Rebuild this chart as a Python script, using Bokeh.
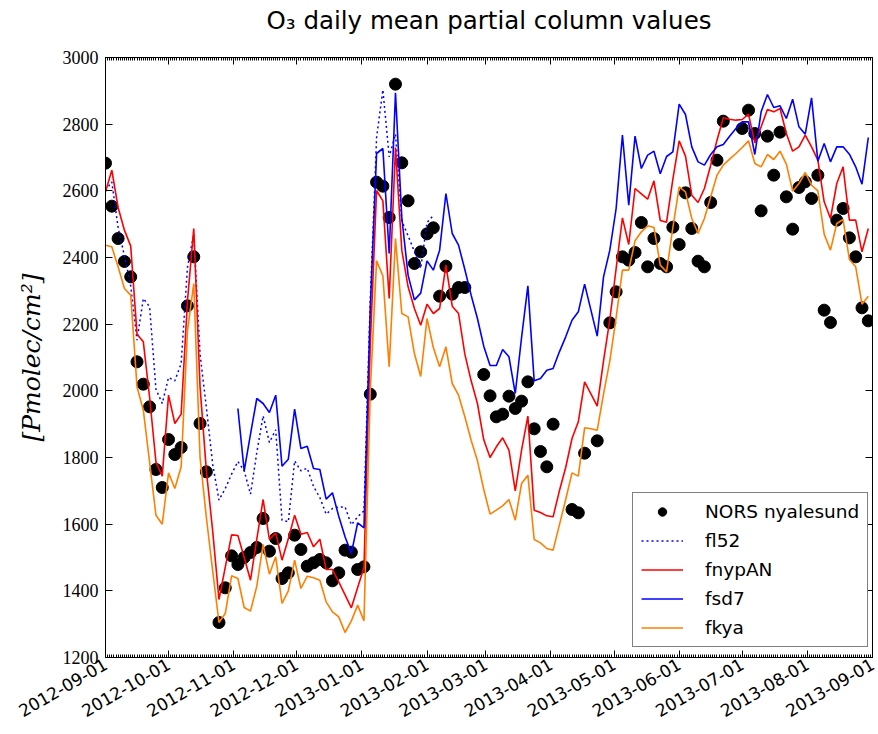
import math
import pandas as pd
from bokeh.plotting import figure
from bokeh.models import FixedTicker, LinearAxis, Range1d, CustomJSTickFormatter
from bokeh.embed import file_html
from bokeh.resources import INLINE

nan = float("nan")

# sampling dates (every third day from 2012-09-01)
dates = pd.date_range("2012-09-01", periods=122, freq="3D")

tick_labels = ["2012-09-01", "2012-10-01", "2012-11-01", "2012-12-01", "2013-01-01",
               "2013-02-01", "2013-03-01", "2013-04-01", "2013-05-01", "2013-06-01",
               "2013-07-01", "2013-08-01", "2013-09-01"]
y_ticks = [1200, 1400, 1600, 1800, 2000, 2200, 2400, 2600, 2800, 3000]

nors = [2683, 2554, 2457, 2388, 2342, 2087, 2020, 1952, 1764, 1710,
        1854, 1809, 1830, 2255, 2402, 1902, 1757, nan, 1305, 1409,
        1505, 1479, 1500, 1515, 1530, 1617, 1519, 1557, 1437, 1454,
        1567, 1524, 1474, 1484, 1494, 1484, 1430, 1454, 1522, 1516,
        1464, 1472, 1990, 2626, 2614, 2520, 2920, 2684, 2570, 2382,
        2417, 2471, 2489, 2284, 2374, 2290, 2310, 2310, nan, nan,
        2049, 1985, 1922, 1930, 1984, 1947, 1969, 2027, 1886, 1818,
        1772, 1900, nan, nan, 1644, 1634, 1813, nan, 1850, nan,
        2204, 2297, 2402, 2392, 2415, 2505, 2372, 2457, 2382, 2372,
        2491, 2439, 2594, 2487, 2389, 2372, 2565, 2692, 2809, nan,
        nan, 2787, 2842, 2772, 2540, 2764, 2647, 2776, 2582, 2485,
        2610, 2627, 2577, 2647, 2242, 2205, 2512, 2547, 2459, 2402,
        2249, 2210]

fl52 = [2602, 2627, 2490, 2405, 2315, 2152, 2277, 2252, 2005, 1962,
        2040, 2030, 2082, 2370, 2470, 2110, 1950, 1780, 1672, 1707,
        1750, 1788, 1760, 1690, 1815, 1925, 1845, 1883, 1612, 1607,
        1790, 1760, 1768, 1713, 1680, 1630, 1647, 1651, 1652, 1598,
        1622, 1640, 2270, 2760, 2903, 2702, 2770, 2510, 2465, 2418,
        2367, 2505, 2526] + [nan] * 69

fnypAN = [2597, 2662, 2550, 2482, 2434, 2170, 2147, 1980, 1787, 1744,
          1987, 1902, 1930, 2270, 2487, 2012, 1760, 1580, 1374, 1471,
          1568, 1566, 1500, 1432, 1555, 1674, 1554, 1574, 1492, 1556,
          1627, 1570, 1575, 1532, 1555, 1464, 1464, 1427, 1388, 1349,
          1410, 1470, 2140, 2601, 2570, 2277, 2730, 2422, 2312, 2247,
          2197, 2260, 2232, 2247, 2377, 2254, 2232, 2110, 2030, 1962,
          1853, 1800, 1832, 1859, 1822, 1700, 1822, 1924, 1642, 1635,
          1625, 1622, 1700, 1770, 1857, 1907, 2027, 1991, 1954, 2090,
          2214, 2367, 2519, 2439, 2607, 2591, 2575, 2630, 2511, 2506,
          2635, 2750, 2704, 2587, 2565, 2607, 2677, 2752, 2819, 2815,
          2812, 2814, 2830, 2744, 2792, 2844, 2837, 2847, 2772, 2719,
          2732, 2767, 2732, 2692, 2567, 2517, 2622, 2672, 2512, 2512,
          2417, 2487]

fsd7 = [nan] * 21 + [
        1947, 1760, 1870, 1977, 1962, 1935, 1987, 1774, 1795,
        1945, 1827, 1834, 1767, 1764, 1675, 1694, 1624, 1562, 1512,
        1604, 1589, 2250, 2712, 2727, 2412, 2894, 2520, 2347, 2273,
        2293, 2390, 2362, 2422, 2592, 2472, 2437, 2364, 2287, 2217,
        2134, 2076, 2076, 2124, 2102, 1992, 2160, 2315, 2030, 2037,
        2062, 2067, 2117, 2162, 2212, 2237, 2320, 2242, 2164, 2342,
        2422, 2547, 2767, 2557, 2764, 2667, 2707, 2719, 2651, 2703,
        2717, 2860, 2829, 2732, 2687, 2677, 2709, 2732, 2739, 2764,
        2787, 2807, 2807, 2709, 2837, 2889, 2850, 2855, 2817, 2875,
        2792, 2770, 2879, 2689, 2742, 2687, 2732, 2732, 2710, 2672,
        2620, 2760]

fkya = [2437, 2432, 2372, 2307, 2287, 2012, 1942, 1785, 1627, 1600,
        1754, 1707, 1772, 2180, 2322, 1800, 1620, 1460, 1305, 1332,
        1445, 1437, 1350, 1339, 1414, 1539, 1450, 1502, 1362, 1400,
        1492, 1407, 1444, 1439, 1432, 1367, 1337, 1322, 1275, 1310,
        1357, 1310, 2000, 2390, 2345, 2072, 2457, 2232, 2222, 2112,
        2043, 2217, 2130, 2072, 2132, 2022, 1987, 1922, 1852, 1790,
        1704, 1630, 1642, 1655, 1674, 1612, 1722, 1747, 1554, 1544,
        1527, 1522, 1598, 1674, 1754, 1744, 1889, 1886, 1882, 1990,
        2090, 2220, 2362, 2362, 2450, 2477, 2495, 2490, 2377, 2357,
        2490, 2612, 2597, 2517, 2472, 2517, 2582, 2647, 2677, 2695,
        2712, 2730, 2750, 2682, 2672, 2709, 2694, 2719, 2680, 2599,
        2622, 2655, 2617, 2600, 2470, 2422, 2502, 2514, 2394, 2372,
        2260, 2284]

start = pd.Timestamp(tick_labels[0])
x = [float((d - start).days) for d in dates]
tick_pos = [float((pd.Timestamp(t) - start).days) for t in tick_labels]
x_end = tick_pos[-1]

p = figure(width=878, height=734, x_range=Range1d(0, x_end), y_range=Range1d(1200, 3000),
           output_backend="svg", toolbar_location=None,
           min_border_left=105, min_border_top=57, min_border_bottom=77, min_border_right=6)
p.outline_line_color = "black"
p.outline_line_width = 1
p.xgrid.visible = False
p.ygrid.visible = False
p.background_fill_color = "white"
p.border_fill_color = "white"

# a blank second line lifts the title line upward inside the top border
p.title.text = "O\u2083 daily mean partial column values\n "
p.title.text_font = "DejaVu Sans"
p.title.text_font_size = "24.5px"
p.title.text_font_style = "normal"
p.title.text_color = "black"
p.title.text_line_height = 0.7
p.title.align = "center"
p.title.standoff = 4

xt = FixedTicker(ticks=tick_pos, minor_ticks=list(range(0, int(x_end) + 1)))
yt = FixedTicker(ticks=y_ticks, minor_ticks=[])

xa = p.xaxis[0]
xa.ticker = xt
xa.major_label_overrides = {int(t): lab for t, lab in zip(tick_pos, tick_labels)}
xa.major_label_orientation = math.pi / 6
xa.major_label_text_font = "DejaVu Sans"
xa.major_label_text_font_size = "17px"
xa.major_label_standoff = 5

ya = p.yaxis[0]
ya.ticker = yt
ya.major_label_text_font = "Liberation Serif"
ya.major_label_text_font_size = "18px"
ya.major_label_standoff = 7
ya.axis_label = "[Pmolec/cm²]"
ya.axis_label_text_font = "DejaVu Serif"
ya.axis_label_text_font_style = "italic"
ya.axis_label_text_font_size = "25px"
ya.axis_label_text_color = "black"
ya.axis_label_standoff = 14

blank = CustomJSTickFormatter(code="return ''")
top = LinearAxis(ticker=xt, formatter=blank, major_label_standoff=0)
right = LinearAxis(ticker=yt, formatter=blank, major_label_standoff=0)
p.add_layout(top, "above")
p.add_layout(right, "right")

for ax in [xa, ya, top, right]:
    ax.major_tick_in = 7
    ax.major_tick_out = 0
    ax.minor_tick_in = 3
    ax.minor_tick_out = 0
    ax.axis_line_color = "black"
    ax.major_tick_line_color = "black"
    ax.minor_tick_line_color = "black"
    ax.major_label_text_color = "black"

p.scatter(x, nors, size=12, color="black", legend_label="NORS nyalesund")
p.line(x, fl52, line_color="blue", line_width=1.5, line_dash="2 3", legend_label="fl52")
p.line(x, fnypAN, line_color="red", line_width=1.6, legend_label="fnypAN")
p.line(x, fsd7, line_color="blue", line_width=1.6, legend_label="fsd7")
p.line(x, fkya, line_color="#ff7f00", line_width=1.6, legend_label="fkya")

lg = p.legend[0]
lg.location = (527, 10)
lg.border_line_color = "black"
lg.border_line_width = 1
lg.background_fill_alpha = 1.0
lg.label_text_font = "DejaVu Sans"
lg.label_text_font_size = "18.5px"
lg.label_text_color = "black"
lg.glyph_width = 42
lg.glyph_height = 21
lg.label_height = 21
lg.label_standoff = 22
lg.spacing = 8
lg.padding = 8
lg.margin = 0

open("out.html", "w").write(file_html(p, INLINE))
